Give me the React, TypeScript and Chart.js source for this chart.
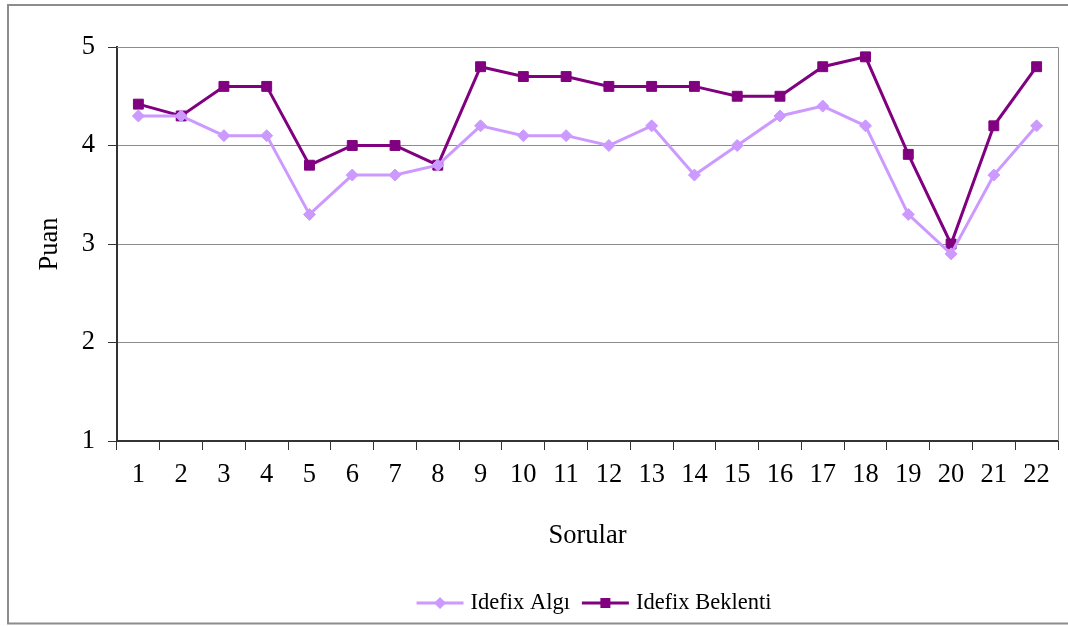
import React, { useEffect, useRef } from "react";
import { Chart, registerables } from "chart.js";

Chart.register(...registerables);

const categories = ["1","2","3","4","5","6","7","8","9","10","11","12","13","14","15","16","17","18","19","20","21","22"];
const algi = [4.3, 4.3, 4.1, 4.1, 3.3, 3.7, 3.7, 3.8, 4.2, 4.1, 4.1, 4.0, 4.2, 3.7, 4.0, 4.3, 4.4, 4.2, 3.3, 2.9, 3.7, 4.2];
const beklenti = [4.42, 4.3, 4.6, 4.6, 3.8, 4.0, 4.0, 3.8, 4.8, 4.7, 4.7, 4.6, 4.6, 4.6, 4.5, 4.5, 4.8, 4.9, 3.91, 3.0, 4.2, 4.8];
const seriesNames = ["Idefix Algı", "Idefix Beklenti"];
const seriesColors = ["#CC99FF", "#800080"];
const yTitle = "Puan";
const xTitle = "Sorular";

const FONT = "'Liberation Serif', 'Times New Roman', serif";
const FS = 26.5;

const framePlugin = {
  id: "frame",
  beforeDatasetsDraw(chart: any) {
    const { ctx, chartArea: a } = chart;
    ctx.save();
    ctx.strokeStyle = "#8c8c8c";
    ctx.lineWidth = 1;
    ctx.beginPath();
    ctx.moveTo(a.left, a.top + 0.5);
    ctx.lineTo(a.right + 0.5, a.top + 0.5);
    ctx.lineTo(a.right + 0.5, a.bottom);
    ctx.stroke();
    ctx.restore();
  },
  afterDraw(chart: any) {
    const { ctx, width, height } = chart;
    ctx.save();
    // outer border
    ctx.strokeStyle = "#8c8c8c";
    ctx.lineWidth = 2;
    ctx.beginPath();
    ctx.moveTo(width + 5, 5);
    ctx.lineTo(8, 5);
    ctx.lineTo(8, height - 2.5);
    ctx.lineTo(width + 5, height - 2.5);
    ctx.stroke();

    // legend
    ctx.font = `22.5px ${FONT}`;
    ctx.textBaseline = "middle";
    ctx.textAlign = "left";
    const lineLen = 47;
    const gap = 7;
    const itemGap = 12;
    const widths = seriesNames.map((n) => ctx.measureText(n).width);
    const total = widths.reduce((s, w) => s + lineLen + gap + w, 0) + itemGap;
    let x = 594 - total / 2;
    const y = 603;
    chart.data.datasets.forEach((ds: any, i: number) => {
      ctx.strokeStyle = ds.borderColor;
      ctx.lineWidth = 3;
      ctx.beginPath();
      ctx.moveTo(x, y);
      ctx.lineTo(x + lineLen, y);
      ctx.stroke();
      ctx.fillStyle = ds.borderColor;
      const cx = x + lineLen / 2;
      if (ds.pointStyle === "rect") {
        ctx.fillRect(cx - 5, y - 5, 10, 10);
      } else {
        ctx.beginPath();
        ctx.moveTo(cx, y - 6);
        ctx.lineTo(cx + 6, y);
        ctx.lineTo(cx, y + 6);
        ctx.lineTo(cx - 6, y);
        ctx.closePath();
        ctx.fill();
      }
      ctx.fillStyle = "#000";
      ctx.fillText(seriesNames[i], x + lineLen + gap, y);
      x += lineLen + gap + widths[i] + itemGap;
    });
    ctx.restore();
  },
};

export default function App() {
  const ref = useRef<HTMLCanvasElement>(null);
  useEffect(() => {
    const chart = new Chart(ref.current!, {
      type: "line",
      data: {
        labels: categories,
        datasets: [
          {
            label: seriesNames[0],
            data: algi,
            borderColor: seriesColors[0],
            backgroundColor: seriesColors[0],
            borderWidth: 3,
            pointStyle: "rectRot",
            pointRadius: 6,
            pointBorderWidth: 1,
            pointHoverRadius: 6,
            tension: 0,
          },
          {
            label: seriesNames[1],
            data: beklenti,
            borderColor: seriesColors[1],
            backgroundColor: seriesColors[1],
            borderWidth: 3,
            pointStyle: "rect",
            pointRadius: 7,
            pointBorderWidth: 1,
            pointHoverRadius: 7,
            tension: 0,
          },
        ],
      },
      options: {
        responsive: false,
        animation: false,
        events: [],
        layout: { padding: { top: 47, right: 10, bottom: 0, left: 0 } },
        plugins: { legend: { display: false }, tooltip: { enabled: false } },
        scales: {
          x: {
            type: "category",
            offset: true,
            grid: {
              offset: true,
              drawOnChartArea: false,
              drawTicks: true,
              tickLength: 9,
              tickColor: "#333333",
              tickWidth: 1,
            },
            border: { color: "#333333", width: 2 },
            ticks: {
              color: "#000",
              font: { family: FONT, size: FS },
              padding: 9,
              autoSkip: false,
              maxRotation: 0,
            },
            title: {
              display: true,
              text: xTitle,
              color: "#000",
              font: { family: FONT, size: FS },
              padding: { top: 0, bottom: 74 },
            },
            afterFit(scale: any) {
              scale.height = 185;
            },
          },
          y: {
            min: 1,
            max: 5,
            ticks: {
              stepSize: 1,
              color: "#000",
              font: { family: FONT, size: FS },
              padding: 13,
            },
            grid: {
              color: "#8c8c8c",
              tickColor: "#333333",
              tickLength: 9,
              lineWidth: 1,
            },
            border: { color: "#333333", width: 2 },
            title: {
              display: true,
              text: yTitle,
              color: "#000",
              font: { family: FONT, size: FS },
              padding: { top: 34, bottom: 0 },
            },
            afterFit(scale: any) {
              scale.width = 117;
            },
          },
        },
      },
      plugins: [framePlugin],
    });
    return () => chart.destroy();
  }, []);
  return (
    <div style={{ position: "fixed", left: 0, top: 0, width: 1068, height: 626, background: "#fff" }}>
      <canvas ref={ref} width={1068} height={626} style={{ display: "block" }} />
    </div>
  );
}
